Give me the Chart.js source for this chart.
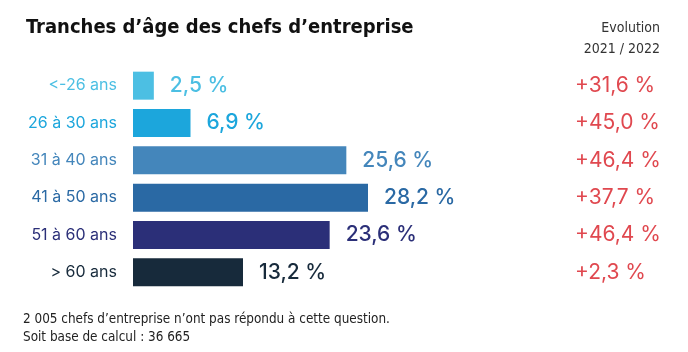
<!DOCTYPE html>
<html>
<head>
<meta charset="utf-8">
<script src="https://cdn.jsdelivr.net/npm/chart.js@4"></script>
<style>
  html, body { margin: 0; background: #fff; }
  #wrap { width: 688px; height: 352px; position: relative; }
</style>
</head>
<body>
<div id="wrap"><canvas id="chart"></canvas></div>
<script>
const categories = ['<-26 ans', '26 à 30 ans', '31 à 40 ans', '41 à 50 ans', '51 à 60 ans', '> 60 ans'];
const shares = [2.5, 6.9, 25.6, 28.2, 23.6, 13.2];
const shareLabels = ['2,5 %', '6,9 %', '25,6 %', '28,2 %', '23,6 %', '13,2 %'];
const evolutionLabels = ['+31,6 %', '+45,0 %', '+46,4 %', '+37,7 %', '+46,4 %', '+2,3 %'];
const barColors = ['#4cbfe3', '#1ca6dc', '#4486bb', '#2a69a4', '#2b2f78', '#172a3b'];

const titleText = 'Tranches d\u2019âge des chefs d\u2019entreprise';
const headerLines = ['Evolution', '2021 / 2022'];
const noteLines = ['2 005 chefs d\u2019entreprise n\u2019ont pas répondu à cette question.', 'Soit base de calcul : 36 665'];

const textPlugin = {
    id: 'texts',
    afterDatasetsDraw(chart) {
        const c = chart.ctx;
        const meta = chart.getDatasetMeta(0);
        const yScale = chart.scales.y;
        c.save();

        // values at the end of the bars
        c.textBaseline = 'middle';
        c.textAlign = 'left';
        c.font = '500 21px Inter';
        meta.data.forEach((bar, i) => {
            c.fillStyle = barColors[i];
            c.fillText(shareLabels[i], bar.x + 16, bar.y);
        });

        // evolution column
        c.font = '400 21px Inter';
        c.fillStyle = '#e0484f';
        evolutionLabels.forEach((t, i) => {
            c.fillText(t, 575, yScale.getPixelForValue(i));
        });

        // title
        c.textBaseline = 'alphabetic';
        c.fillStyle = '#111';
        c.font = 'bold 20px "DejaVu Sans Condensed"';
        c.fillText(titleText, 26, 33);

        // header of the evolution column
        c.textAlign = 'right';
        c.fillStyle = '#333';
        c.font = '14px "DejaVu Sans Condensed"';
        c.fillText(headerLines[0], 660, 32);
        c.fillText(headerLines[1], 660, 53);

        // footnote
        c.textAlign = 'left';
        c.fillStyle = '#222';
        c.font = '13.4px "DejaVu Sans Condensed"';
        c.fillText(noteLines[0], 23, 323);
        c.fillText(noteLines[1], 23, 341);

        c.restore();
    }
};

new Chart(document.getElementById('chart'), {
    type: 'bar',
    data: {
        labels: categories,
        datasets: [{
            data: shares,
            backgroundColor: barColors,
            borderWidth: 0,
            barPercentage: 0.75,
            categoryPercentage: 1
        }]
    },
    options: {
        indexAxis: 'y',
        responsive: true,
        maintainAspectRatio: false,
        animation: false,
        layout: {
            padding: { top: 67, bottom: 61, left: 0, right: 305 }
        },
        scales: {
            x: {
                display: false,
                min: 0,
                max: 30
            },
            y: {
                grid: { display: false, drawTicks: false },
                border: { display: false },
                ticks: {
                    padding: 16,
                    color: ctx => barColors[ctx.index],
                    font: { family: 'Inter', size: 16 }
                },
                afterFit: scale => { scale.width = 133; }
            }
        },
        plugins: {
            legend: { display: false },
            tooltip: { enabled: false }
        }
    },
    plugins: [textPlugin]
});
</script>
</body>
</html>
